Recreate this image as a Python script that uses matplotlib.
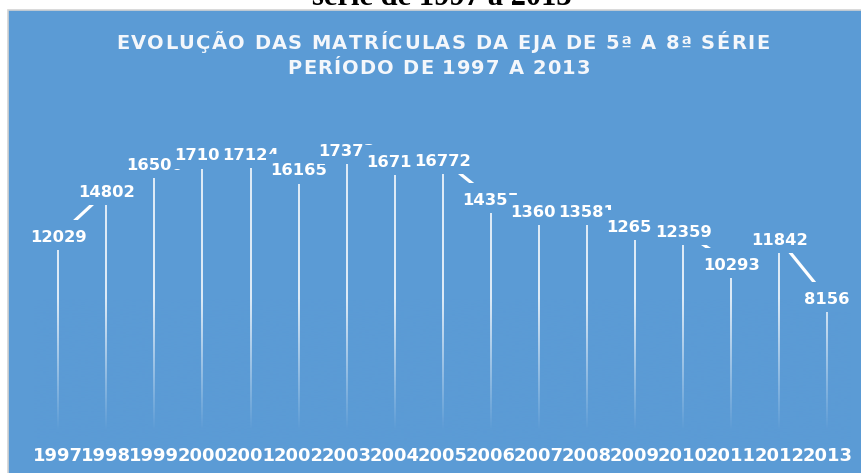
import numpy as np
import matplotlib
matplotlib.use("Agg")
import matplotlib.pyplot as plt
import matplotlib.transforms as mtransforms
from matplotlib.patches import Rectangle
from matplotlib.path import Path
from matplotlib.colors import to_rgb
from matplotlib.font_manager import FontProperties, findfont, get_font

# ---- data ----
years = ["1997", "1998", "1999", "2000", "2001", "2002", "2003", "2004", "2005",
         "2006", "2007", "2008", "2009", "2010", "2011", "2012", "2013"]
matriculas = [12029, 14802, 16500, 17100, 17124, 16165, 17373, 16710, 16772,
              14355, 13600, 13581, 12650, 12359, 10293, 11842, 8156]
title_line1 = "EVOLUÇÃO DAS MATRÍCULAS DA EJA DE 5ª A 8ª SÉRIE"
title_line2 = "PERÍODO DE 1997 A 2013"
caption = "série de 1997 a 2013"

BLUE = "#5B9BD5"
W, H = 862, 473
DPI = 100
fig = plt.figure(figsize=(W / DPI, H / DPI), dpi=DPI)
fig.patch.set_facecolor("white")

# blue chart area with light grey border
fig.add_artist(Rectangle((8.5 / W, -0.05), 1.2, 1.05 - 10.5 / H,
                         transform=fig.transFigure, facecolor=BLUE,
                         edgecolor="#D3D3D3", lw=1.2, zorder=0))

# cut-off caption above the chart
fig.text(441.5 / W, 1 - 5 / H, caption, family="Liberation Serif",
         fontweight="bold", fontsize=22, ha="center", va="baseline",
         color="black")

# title with letter spacing
title_fp = FontProperties(family="DejaVu Sans", weight="bold", size=14)
_font = get_font(findfont(title_fp))
_font.set_size(14, DPI)


def advance(ch):
    g = _font.load_char(ord(ch))
    return g.linearHoriAdvance / 65536


def spaced_text(cx_px, baseline_px, s, spacing_px, color):
    widths = [advance(c) for c in s]
    total = sum(widths) + spacing_px * (len(s) - 1)
    xpos = cx_px - total / 2
    for c, w in zip(s, widths):
        if c != " ":
            fig.text(xpos / W, 1 - baseline_px / H, c, fontproperties=title_fp,
                     ha="left", va="baseline", color=color)
        xpos += w + spacing_px


spaced_text(442.5, 49.3, title_line1, 1.35, "#F4F7FB")
spaced_text(439.0, 74.0, title_line2, 1.1, "#F4F7FB")

# axes
ax = fig.add_axes([34.27 / W, (H - 429.5) / H, 817.0 / W, 354.0 / H])
ax.set_facecolor("none")
for s in ax.spines.values():
    s.set_visible(False)

x = np.arange(len(years))

# drop lines and connecting line
ax.vlines(x, 0, matriculas, color="white", lw=1.15, zorder=2)
ax.plot(x, matriculas, color="white", lw=2.3, zorder=3, solid_capstyle="butt")

# fade of drop lines toward the bottom
y_lo, y_hi = -0.05, 0.37
rows = np.linspace(y_lo, y_hi, 300)
grad = np.zeros((300, 1, 4))
grad[..., :3] = to_rgb(BLUE)
grad[:, 0, 3] = np.interp(rows, [0.0, y_hi], [1.0, 0.0])
ax.imshow(grad, extent=(0, 1, y_lo, y_hi), transform=ax.transAxes,
          aspect="auto", origin="lower", interpolation="bilinear", zorder=4,
          clip_on=False)


def label_box(x0, y0, width, height, mutation_size):
    s = mutation_size
    cy = y0 + 0.6 * s
    xa, xb = x0 - 3, x0 + width + 3
    ya, yb = cy - 15, cy + 15
    return Path([(xa, ya), (xb, ya), (xb, yb), (xa, yb), (xa, ya)],
                [Path.MOVETO, Path.LINETO, Path.LINETO, Path.LINETO,
                 Path.CLOSEPOLY])


lab_tr = mtransforms.offset_copy(ax.transData, fig=fig, x=0, y=-6, units="dots")
for i, (xi, v) in enumerate(zip(x, matriculas)):
    ax.text(xi, v, str(v), transform=lab_tr, ha="center", va="baseline",
            fontsize=11.8, fontweight="bold", color="white",
            zorder=5 + i * 0.01,
            bbox=dict(boxstyle=label_box, facecolor=BLUE, edgecolor="none"))

ax.set_xlim(-0.5, len(years) - 0.5)
ax.set_ylim(0, 22000)
ax.set_yticks([])
ax.set_xticks(x, years)
ax.tick_params(axis="x", length=0, pad=12.6, labelsize=13, labelcolor="white")
for lbl in ax.get_xticklabels():
    lbl.set_fontweight("bold")

fig.savefig("out.png", dpi=DPI)
